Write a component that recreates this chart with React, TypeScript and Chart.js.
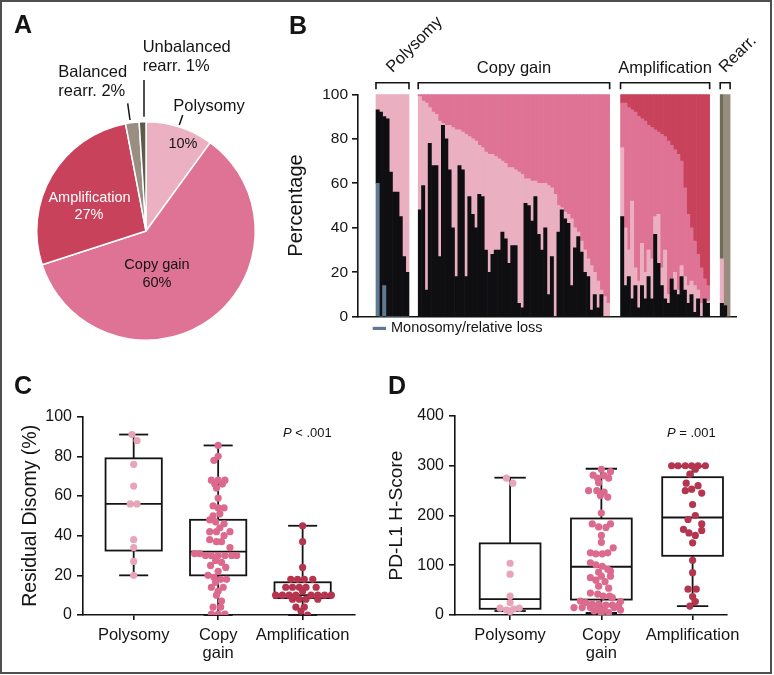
import React, { useEffect, useRef } from "react";
import { Chart, registerables } from "chart.js";
Chart.register(...registerables);

const FONT = "'Liberation Sans', Arial, Helvetica, sans-serif";
const INK = "#141414";

// ---------------- Panel A (pie) ----------------
const pieLabels = ["Polysomy", "Copy gain", "Amplification", "Balanced rearr.", "Unbalanced rearr."];
const pieValues = [10, 60, 27, 2, 1];
const pieColors = ["#ebb1c2", "#df7395", "#c8425b", "#9a8e82", "#5d5b4c"];

// ---------------- Panel B (stacked percentage bars) ----------------
const C_MONO = "#5f7a90";
const C_BLACK = "#0f0f12";
const C_LIGHT = "#eaafc1";
const C_MID = "#df7395";
const C_DARK = "#c8425b";
const rearrTopColors = ["#6f6c5c", "#988c7e", "#988c7e"];

const polyMono = [60, 0, 14, 0, 0, 0, 0, 0, 0, 0];
const polyBlack = [93, 92, 90, 89, 65, 56, 56, 45, 27, 20];

const copyBlack = [48, 59, 12, 78, 68, 68, 27, 86, 80, 66, 40, 18, 68, 66, 18, 54, 46, 40, 55, 54, 30, 20, 28, 30, 30, 38, 35, 24, 32, 32, 6, 4, 51, 50, 43, 54, 37, 30, 40, 10, 27, 0, 38, 48, 44, 42, 14, 31, 36, 29, 20, 18, 3, 10, 4, 10, 0, 0];
const copyLight = [99, 97, 96, 94, 92, 91, 88, 87, 86, 86, 85, 84, 84, 83, 82, 81, 80, 79, 77, 76, 74, 73, 73, 72, 71, 70, 69, 67, 67, 66, 65, 64, 62, 62, 61, 61, 60, 60, 60, 59, 58, 55, 50, 49, 47, 46, 44, 40, 38, 34, 30, 26, 23, 20, 16, 12, 9, 6];

const ampBlack = [45, 14, 18, 8, 14, 4, 14, 8, 18, 8, 37, 24, 14, 8, 6, 17, 12, 10, 18, 12, 6, 10, 2, 8, 0, 8, 6];
const ampLight = [76, 40, 30, 52, 22, 16, 33, 20, 30, 26, 45, 46, 22, 30, 10, 17, 20, 12, 23, 18, 14, 16, 14, 12, 6, 8, 7];
const ampMid = [96, 96, 94, 93, 92, 90, 89, 88, 86, 85, 84, 83, 82, 81, 79, 77, 75, 73, 70, 58, 46, 40, 34, 28, 22, 17, 14];

const rearrBlack = [6, 5, 0];
const rearrLight = [26, 5, 0];

const bGroupNames = ["Polysomy", "Copy gain", "Amplification", "Rearr."];
// bar-slot position of the first bar of each group
const POLY_START = 0;
const COPY_START = 12.8;
const AMP_START = 74.1;
const REARR_START = 104.3;

// ---------------- Panel C / D (box plots) ----------------
const boxCategories = ["Polysomy", "Copy gain", "Amplification"];
const dotColors = ["#e8a4b8", "#dc6a8e", "#b5354f"];

const cLow = [20, 0, 0];
const cQ1 = [32.5, 20, 8.5];
const cMed = [56, 32, 10];
const cQ3 = [79, 48, 16.5];
const cHigh = [91, 85.5, 45];

const cPolyVals = [91, 88, 76, 65, 56, 56, 38, 34, 27, 20];
const cPolyOff = [-0.02, 0.04, 0, 0, -0.04, 0.04, 0, 0, 0, 0];
const cCopyVals = [85.5, 80, 78, 68, 68, 68, 66, 66, 64, 59, 55, 54, 54, 50, 51, 48, 47, 46, 44, 42, 42, 42, 40, 38, 37, 37, 34, 31, 31, 30, 30, 30, 30, 30, 30, 27.5, 26.5, 25, 24, 22, 20, 19, 18, 18, 16.5, 14, 14, 12, 10, 7, 4, 4, 0.5, 0.5, 0.5];
const cCopyOff = [0, 0, -0.05, -0.08, 0, 0.08, -0.04, 0.05, -0.02, 0, -0.06, 0, 0.07, -0.06, 0.02, -0.1, -0.03, 0.07, 0.02, -0.1, -0.02, 0.14, 0.07, -0.1, -0.02, 0.04, 0.14, -0.28, -0.22, -0.15, -0.08, 0, 0.08, 0.16, 0.22, -0.03, 0.04, -0.09, 0.09, 0, -0.12, -0.05, 0.03, 0.1, -0.03, -0.08, 0.06, 0, -0.02, 0.04, -0.06, 0.03, -0.08, 0, 0.08];
const cAmpVals = [45, 37, 24, 18, 18, 18, 18, 14, 14, 14, 14, 14, 12, 10, 10, 10, 10, 10, 10, 10, 10, 8, 8, 8, 8, 4, 4, 2, 0];
const cAmpOff = [0, 0, 0, -0.14, -0.06, 0.02, 0.12, -0.2, -0.12, -0.04, 0.04, 0.16, 0.0, -0.32, -0.24, -0.16, -0.08, 0.1, 0.18, 0.26, 0.34, -0.12, -0.04, 0.04, 0.18, -0.08, 0.02, -0.02, 0.06];

const dLow = [8, 4, 18];
const dQ1 = [12.5, 31, 119];
const dMed = [32, 97, 196];
const dQ3 = [144, 194, 277];
const dHigh = [276, 294, 299];

const dPolyVals = [275, 265, 104, 82, 38, 25, 14, 10, 12, 14, 7];
const dPolyOff = [-0.04, 0.03, 0, 0, 0, 0, -0.11, -0.04, 0.04, 0.1, 0.0];
const dCopyVals = [293, 288, 281, 280, 275, 275, 266, 250, 250, 247, 240, 237, 205, 183, 183, 177, 176, 160, 146, 135, 125, 123, 123, 125, 105, 101, 98, 92, 86, 88, 78, 78, 75, 70, 67, 58, 54, 44, 42, 38, 38, 35, 28, 27, 25, 22, 22, 20, 20, 20, 15, 15, 15, 15, 15, 12, 10, 8, 8, 5, 3];
const dCopyOff = [0, 0.1, -0.09, 0.03, -0.04, 0.08, -0.03, -0.14, -0.05, 0.03, -0.01, 0.07, 0, -0.1, 0.1, -0.03, 0.05, 0, 0, 0.13, -0.12, -0.06, 0.01, 0.07, -0.12, -0.06, 0.01, 0.07, -0.03, 0.1, 0, 0.1, -0.12, -0.06, 0.04, -0.03, 0.08, -0.12, -0.04, 0.02, 0.09, 0.12, -0.23, 0.21, -0.17, -0.1, -0.03, 0.05, 0.12, 0.19, -0.3, -0.21, -0.12, -0.04, 0.14, 0.03, 0.21, -0.08, -0.01, 0.08, 0];
const dAmpVals = [300, 300, 300, 300, 300, 300, 293, 283, 265, 260, 253, 250, 245, 222, 200, 192, 183, 172, 170, 165, 160, 145, 110, 85, 52, 52, 37, 27, 18];
const dAmpOff = [-0.23, -0.16, -0.08, -0.01, 0.06, 0.14, 0.03, -0.03, -0.07, 0.06, -0.01, -0.08, 0.1, 0, 0.03, -0.05, 0.1, -0.1, 0.1, -0.04, 0.03, 0, 0, 0, -0.05, 0.04, 0, 0.03, -0.03];

// ---------------- helpers ----------------
const noPlugins = { legend: { display: false }, tooltip: { enabled: false } };

function pieConfig(): any {
  const labelPlugin = {
    id: "pieLabels",
    afterDraw(chart: any) {
      const arc = chart.getDatasetMeta(0).data[0];
      const cx = arc.x;
      const cy = arc.y;
      const ctx = chart.ctx;
      ctx.save();
      ctx.textBaseline = "middle";
      const txt = (s: string, dx: number, dy: number, align: CanvasTextAlign, size: number, color = INK) => {
        ctx.font = `${size}px ${FONT}`;
        ctx.fillStyle = color;
        ctx.textAlign = align;
        ctx.fillText(s, cx + dx, cy + dy);
      };
      const line = (x1: number, y1: number, x2: number, y2: number) => {
        ctx.beginPath();
        ctx.moveTo(cx + x1, cy + y1);
        ctx.lineTo(cx + x2, cy + y2);
        ctx.stroke();
      };
      ctx.strokeStyle = INK;
      ctx.lineWidth = 1.5;
      txt("Polysomy", 27.3, -125, "left", 16.5);
      line(36.7, -116, 33.3, -106);
      txt("10%", 37, -87, "center", 14.5);
      txt("Copy gain", 11, 34, "center", 14.5);
      txt("60%", 11, 51.5, "center", 14.5);
      txt("Amplification", -56.5, -33, "center", 14.5, "#ffffff");
      txt("27%", -57, -16.5, "center", 14.5, "#ffffff");
      txt("Balanced", -87.7, -158.3, "left", 16.5);
      txt("rearr. 2%", -87.7, -139.3, "left", 16.5);
      line(-18.3, -127.7, -16, -111);
      txt("Unbalanced", -3.3, -183.5, "left", 16.5);
      txt("rearr. 1%", -3.3, -165, "left", 16.5);
      line(-2, -151, -2, -114.3);
      ctx.restore();
    },
  };
  return {
    type: "pie",
    data: {
      labels: pieLabels,
      datasets: [{ data: pieValues, backgroundColor: pieColors, borderColor: "#ffffff", borderWidth: 1.5 }],
    },
    options: {
      responsive: false,
      animation: false,
      devicePixelRatio: 1,
      events: [],
      layout: { padding: { left: 36, right: 34, top: 121, bottom: 19 } },
      plugins: noPlugins,
    },
    plugins: [labelPlugin],
  };
}

function barConfig(): any {
  type Seg = { x: number; y: [number, number] };
  const mono: Seg[] = [];
  const black: Seg[] = [];
  const light: Seg[] = [];
  const mid: Seg[] = [];
  const dark: Seg[] = [];
  const rearrTop: Seg[] = [];
  polyBlack.forEach((b, i) => {
    const x = POLY_START + i;
    mono.push({ x, y: [0, polyMono[i]] });
    black.push({ x, y: [polyMono[i], b] });
    light.push({ x, y: [b, 100] });
  });
  copyBlack.forEach((b, i) => {
    const x = COPY_START + i;
    black.push({ x, y: [0, b] });
    light.push({ x, y: [b, copyLight[i]] });
    mid.push({ x, y: [copyLight[i], 100] });
  });
  ampBlack.forEach((b, i) => {
    const x = AMP_START + i;
    black.push({ x, y: [0, b] });
    light.push({ x, y: [b, ampLight[i]] });
    mid.push({ x, y: [ampLight[i], ampMid[i]] });
    dark.push({ x, y: [ampMid[i], 100] });
  });
  rearrBlack.forEach((b, i) => {
    const x = REARR_START + i;
    black.push({ x, y: [0, b] });
    light.push({ x, y: [b, rearrLight[i]] });
    rearrTop.push({ x, y: [rearrLight[i], 100] });
  });

  const groups = [
    { label: bGroupNames[0], start: POLY_START, n: polyBlack.length, rot: true },
    { label: bGroupNames[1], start: COPY_START, n: copyBlack.length, rot: false },
    { label: bGroupNames[2], start: AMP_START, n: ampBlack.length, rot: false },
    { label: bGroupNames[3], start: REARR_START, n: rearrBlack.length, rot: true },
  ];

  const annot = {
    id: "bAnnot",
    afterDraw(chart: any) {
      const { ctx, chartArea } = chart;
      const xs = chart.scales.x;
      ctx.save();
      ctx.strokeStyle = INK;
      ctx.fillStyle = INK;
      ctx.lineWidth = 1.6;
      const top = chartArea.top - 11.6;
      const foot = chartArea.top - 5;
      ctx.font = `16.5px ${FONT}`;
      groups.forEach((g) => {
        const l = xs.getPixelForValue(g.start - 0.5);
        const r = xs.getPixelForValue(g.start + g.n - 0.5);
        ctx.beginPath();
        ctx.moveTo(l, foot);
        ctx.lineTo(l, top);
        ctx.lineTo(r, top);
        ctx.lineTo(r, foot);
        ctx.stroke();
        const m = (l + r) / 2;
        ctx.textBaseline = "alphabetic";
        if (g.rot) {
          ctx.save();
          ctx.translate(m, top - 9.5);
          ctx.rotate(-Math.PI / 4);
          ctx.textAlign = "left";
          ctx.fillText(g.label, 0, 0);
          ctx.restore();
        } else {
          ctx.textAlign = "center";
          ctx.fillText(g.label, m, top - 10);
        }
      });
      // legend
      const ly = chartArea.bottom + 11.6;
      ctx.fillStyle = C_MONO;
      ctx.fillRect(92.7, ly - 1.5, 13.3, 3.2);
      ctx.fillStyle = INK;
      ctx.font = `14.5px ${FONT}`;
      ctx.textAlign = "left";
      ctx.textBaseline = "middle";
      ctx.fillText("Monosomy/relative loss", 111, ly);
      ctx.restore();
    },
  };

  const common = { grouped: false, barPercentage: 1, categoryPercentage: 1, borderWidth: 0 };
  return {
    type: "bar",
    data: {
      datasets: [
        { ...common, data: mono, backgroundColor: C_MONO },
        { ...common, data: black, backgroundColor: C_BLACK },
        { ...common, data: light, backgroundColor: C_LIGHT },
        { ...common, data: mid, backgroundColor: C_MID },
        { ...common, data: dark, backgroundColor: C_DARK },
        { ...common, data: rearrTop, backgroundColor: rearrTopColors },
      ],
    },
    options: {
      responsive: false,
      animation: false,
      devicePixelRatio: 1,
      events: [],
      layout: { padding: { left: 0, top: 94.3, right: 37.3, bottom: 0 } },
      plugins: noPlugins,
      scales: {
        x: {
          type: "linear",
          offset: false,
          min: -5.95,
          max: 108.8,
          grid: { display: false, offset: false },
          ticks: { display: false },
          border: { display: true, color: INK, width: 1.6 },
          afterFit: (s: any) => {
            s.height = 28.3;
          },
        },
        y: {
          min: 0,
          max: 100,
          ticks: { stepSize: 20, color: INK, font: { size: 15.5, family: FONT }, padding: 4 },
          grid: { display: true, drawOnChartArea: false, drawTicks: true, tickLength: 6, color: INK, lineWidth: 1.6 },
          border: { display: true, color: INK, width: 1.6 },
          title: { display: true, text: "Percentage", color: INK, font: { size: 20, family: FONT }, padding: { top: 4, bottom: 0 } },
          afterFit: (s: any) => {
            s.width = 78;
          },
        },
      },
    },
    plugins: [annot],
  };
}

interface BoxSpec {
  low: number[];
  q1: number[];
  med: number[];
  q3: number[];
  high: number[];
  vals: number[][];
  offs: number[][];
  yMax: number;
  yStep: number;
  xMin: number;
  xMax: number;
  yTitle: string;
  yTitleSize: number;
  titlePad: number;
  yWidth: number;
  padRight: number;
  padTop: number;
  pRel: string;
  pPos: [number, number];
}

function boxConfig(s: BoxSpec): any {
  const BOX_HALF = 0.333;
  const CAP_HALF = 0.172;
  const boxes = {
    id: "boxes",
    beforeDatasetsDraw(chart: any) {
      const { ctx } = chart;
      const xs = chart.scales.x;
      const ys = chart.scales.y;
      ctx.save();
      ctx.strokeStyle = INK;
      ctx.lineWidth = 1.8;
      const seg = (x1: number, y1: number, x2: number, y2: number) => {
        ctx.beginPath();
        ctx.moveTo(x1, y1);
        ctx.lineTo(x2, y2);
        ctx.stroke();
      };
      s.med.forEach((_, i) => {
        const c = i + 1;
        const cx = xs.getPixelForValue(c);
        const bl = xs.getPixelForValue(c - BOX_HALF);
        const br = xs.getPixelForValue(c + BOX_HALF);
        const cl = xs.getPixelForValue(c - CAP_HALF);
        const cr = xs.getPixelForValue(c + CAP_HALF);
        const yl = ys.getPixelForValue(s.low[i]);
        const y1 = ys.getPixelForValue(s.q1[i]);
        const ym = ys.getPixelForValue(s.med[i]);
        const y3 = ys.getPixelForValue(s.q3[i]);
        const yh = ys.getPixelForValue(s.high[i]);
        seg(cx, yl, cx, y1);
        seg(cx, y3, cx, yh);
        seg(cl, yh, cr, yh);
        seg(cl, yl, cr, yl);
        ctx.strokeRect(bl, y3, br - bl, y1 - y3);
        seg(bl, ym, br, ym);
      });
      ctx.restore();
    },
    afterDraw(chart: any) {
      const { ctx } = chart;
      ctx.save();
      ctx.fillStyle = INK;
      ctx.textBaseline = "middle";
      ctx.textAlign = "left";
      ctx.font = `italic 13px ${FONT}`;
      ctx.fillText("P", s.pPos[0], s.pPos[1]);
      const w = ctx.measureText("P").width;
      ctx.font = `13px ${FONT}`;
      ctx.fillText(` ${s.pRel} .001`, s.pPos[0] + w, s.pPos[1]);
      ctx.restore();
    },
  };
  const datasets = s.vals.map((vals, g) => ({
    data: vals.map((v, k) => ({ x: g + 1 + s.offs[g][k], y: v })),
    backgroundColor: dotColors[g],
    pointBackgroundColor: dotColors[g],
    pointBorderWidth: 0,
    pointRadius: 3.6,
  }));
  return {
    type: "scatter",
    data: { datasets },
    options: {
      responsive: false,
      animation: false,
      devicePixelRatio: 1,
      events: [],
      layout: { padding: { left: 0, top: s.padTop, right: s.padRight, bottom: 0 } },
      plugins: noPlugins,
      scales: {
        x: {
          type: "linear",
          min: s.xMin,
          max: s.xMax,
          afterBuildTicks: (sc: any) => {
            sc.ticks = boxCategories.map((_, i) => ({ value: i + 1 }));
          },
          ticks: {
            color: INK,
            padding: 6,
            maxRotation: 0,
            autoSkip: false,
            font: { size: 16.5, family: FONT, lineHeight: 1.1 },
            callback: (v: number) => {
              const name = boxCategories[Math.round(v) - 1];
              return name === "Copy gain" ? ["Copy", "gain"] : name;
            },
          },
          grid: { display: true, drawOnChartArea: false, drawTicks: true, tickLength: 5, color: INK, lineWidth: 1.6 },
          border: { display: true, color: INK, width: 1.6 },
          afterFit: (sc: any) => {
            sc.height = 57;
          },
        },
        y: {
          min: 0,
          max: s.yMax,
          ticks: { stepSize: s.yStep, color: INK, font: { size: 16, family: FONT }, padding: 5 },
          grid: { display: true, drawOnChartArea: false, drawTicks: true, tickLength: 6, color: INK, lineWidth: 1.6 },
          border: { display: true, color: INK, width: 1.6 },
          title: {
            display: true,
            text: s.yTitle,
            color: INK,
            font: { size: s.yTitleSize, family: FONT },
            padding: { top: s.titlePad, bottom: 0 },
          },
          afterFit: (sc: any) => {
            sc.width = s.yWidth;
          },
        },
      },
    },
    plugins: [boxes],
  };
}

const specC: BoxSpec = {
  low: cLow, q1: cQ1, med: cMed, q3: cQ3, high: cHigh,
  vals: [cPolyVals, cCopyVals, cAmpVals],
  offs: [cPolyOff, cCopyOff, cAmpOff],
  yMax: 100, yStep: 20, xMin: 0.4, xMax: 3.62,
  yTitle: "Residual Disomy (%)", yTitleSize: 19.5, titlePad: 19,
  yWidth: 83, padRight: 30, padTop: 56.7,
  pRel: "<", pPos: [283, 73],
};

const specD: BoxSpec = {
  low: dLow, q1: dQ1, med: dMed, q3: dQ3, high: dHigh,
  vals: [dPolyVals, dCopyVals, dAmpVals],
  offs: [dPolyOff, dCopyOff, dAmpOff],
  yMax: 400, yStep: 100, xMin: 0.396, xMax: 3.377,
  yTitle: "PD-L1 H-Score", yTitleSize: 19.2, titlePad: 0.5,
  yWidth: 70, padRight: 43, padTop: 56,
  pRel: "=", pPos: [282, 73],
};

const letterStyle: React.CSSProperties = {
  position: "absolute",
  fontFamily: FONT,
  fontWeight: "bold",
  fontSize: 25,
  lineHeight: "25px",
  color: INK,
};

export default function App() {
  const aRef = useRef<HTMLCanvasElement>(null);
  const bRef = useRef<HTMLCanvasElement>(null);
  const cRef = useRef<HTMLCanvasElement>(null);
  const dRef = useRef<HTMLCanvasElement>(null);

  useEffect(() => {
    const charts = [
      new Chart(aRef.current as HTMLCanvasElement, pieConfig()),
      new Chart(bRef.current as HTMLCanvasElement, barConfig()),
      new Chart(cRef.current as HTMLCanvasElement, boxConfig(specC)),
      new Chart(dRef.current as HTMLCanvasElement, boxConfig(specD)),
    ];
    return () => charts.forEach((c) => c.destroy());
  }, []);

  const abs = (l: number, t: number, w: number, h: number): React.CSSProperties => ({
    position: "absolute",
    left: l,
    top: t,
    width: w,
    height: h,
  });

  return (
    <div style={{ position: "absolute", left: 0, top: 0, width: 774, height: 675, background: "#ffffff", overflow: "hidden" }}>
      <div style={{ position: "absolute", left: 0, top: 0, width: 772, height: 674, border: "2px solid #4f4f4f", boxSizing: "border-box" }} />
      <canvas ref={aRef} width={290} height={360} style={abs(0, 0, 290, 360)} />
      <canvas ref={bRef} width={494} height={345} style={abs(280, 0, 494, 345)} />
      <canvas ref={cRef} width={385} height={312} style={abs(0, 360, 385, 312)} />
      <canvas ref={dRef} width={385} height={312} style={abs(385, 360, 385, 312)} />
      <div style={{ ...letterStyle, left: 14, top: 11.5 }}>A</div>
      <div style={{ ...letterStyle, left: 289, top: 12.5 }}>B</div>
      <div style={{ ...letterStyle, left: 14, top: 373 }}>C</div>
      <div style={{ ...letterStyle, left: 388, top: 373 }}>D</div>
    </div>
  );
}
